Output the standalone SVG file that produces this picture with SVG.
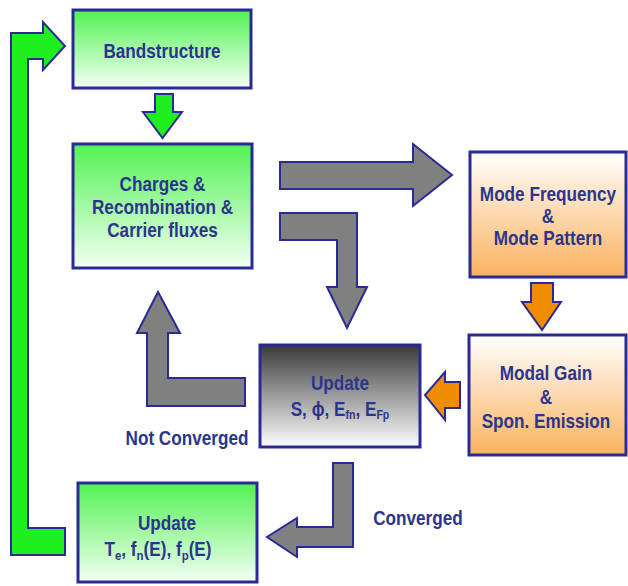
<svg xmlns="http://www.w3.org/2000/svg" width="628" height="586" viewBox="0 0 628 586">
<defs>
<linearGradient id="gGreen" x1="0" y1="0" x2="0" y2="1"><stop offset="0" stop-color="#52f252"/><stop offset="1" stop-color="#f4fff4"/></linearGradient>
<linearGradient id="gOrange" x1="0" y1="0" x2="0" y2="1"><stop offset="0" stop-color="#ffffff"/><stop offset="1" stop-color="#f9b25e"/></linearGradient>
<linearGradient id="gGray" x1="0" y1="0" x2="0" y2="1"><stop offset="0" stop-color="#3a3a3a"/><stop offset="1" stop-color="#ffffff"/></linearGradient>
</defs>
<style>
.box{stroke:#2a2a96;stroke-width:3}
.t{font-family:"Liberation Sans",Arial,sans-serif;font-weight:bold;font-size:19.5px;fill:#2c358c;text-anchor:middle}
.ag{fill:#808080;stroke:#2a2a96;stroke-width:2;stroke-linejoin:miter}
.agr{fill:#1fee1f;stroke:#2a2a96;stroke-width:2}
.aor{fill:#ef8c00;stroke:#2a2a96;stroke-width:2}
</style>
<rect width="628" height="586" fill="#ffffff"/>
<g id="connectors">
<polygon class="agr" points="11,555 11,33 43,33 43,22 65,46 43,70 43,59 28,59 28,528 65,528 65,555"/>
<polygon class="agr" points="155,94 173,94 173,112 182,112 162.5,138 143,112 155,112"/>
<polygon class="ag" points="280,162 413,162 413,144 452,175 413,206 413,189 280,189"/>
<polygon class="ag" points="280,213 357,213 357,287 367,287 347,328 327,287 337,287 337,240 280,240"/>
<polygon class="aor" points="531,283 553,283 553,302 561,302 542,330 522,302 531,302"/>
<polygon class="aor" points="460,382 460,408 445,408 445,420 425,395 445,372 445,382"/>
<polygon class="ag" points="245,378 245,406 147,406 147,333 137,333 158,292 180,333 168,333 168,378"/>
<polygon class="ag" points="333,463 353,463 353,547 297,547 297,557 267,537 297,518 297,527 333,527"/>
<text class="t" transform="translate(187,445) scale(0.88,1)">Not Converged</text>
<text class="t" transform="translate(418,525) scale(0.88,1)">Converged</text>
</g>
<g id="bandstructure">
<rect class="box" x="73" y="10" width="178" height="78" fill="url(#gGreen)"/>
<text class="t" transform="translate(162,58) scale(0.88,1)">Bandstructure</text>
</g>
<g id="charges">
<rect class="box" x="73" y="144" width="179" height="124" fill="url(#gGreen)"/>
<text class="t" transform="translate(162.5,191) scale(0.88,1)">Charges &amp;</text>
<text class="t" transform="translate(162.5,214) scale(0.88,1)">Recombination &amp;</text>
<text class="t" transform="translate(162.5,237) scale(0.88,1)">Carrier fluxes</text>
</g>
<g id="mode">
<rect class="box" x="470" y="152" width="156" height="125" fill="url(#gOrange)"/>
<text class="t" transform="translate(548,201) scale(0.88,1)">Mode Frequency</text>
<text class="t" transform="translate(548,223) scale(0.88,1)">&amp;</text>
<text class="t" transform="translate(548,245) scale(0.88,1)">Mode Pattern</text>
</g>
<g id="modal">
<rect class="box" x="469" y="335" width="157" height="120" fill="url(#gOrange)"/>
<text class="t" transform="translate(546,380) scale(0.88,1)">Modal Gain</text>
<text class="t" transform="translate(546,404) scale(0.88,1)">&amp;</text>
<text class="t" transform="translate(546,428) scale(0.88,1)">Spon. Emission</text>
</g>
<g id="update-mid">
<rect class="box" x="260" y="345" width="160" height="102" fill="url(#gGray)"/>
<text class="t" transform="translate(340,390) scale(0.88,1)">Update</text>
<text class="t" transform="translate(340,416) scale(0.88,1)">S, ϕ, E<tspan font-size="12" dy="3">fn</tspan><tspan dy="-3">, E</tspan><tspan font-size="12" dy="3">Fp</tspan></text>
</g>
<g id="update-bottom">
<rect class="box" x="78" y="483" width="179" height="99" fill="url(#gGreen)"/>
<text class="t" transform="translate(167,530) scale(0.88,1)">Update</text>
<text class="t" transform="translate(158,556) scale(0.88,1)">T<tspan font-size="13" dy="4">e</tspan><tspan dy="-4">, f</tspan><tspan font-size="13" dy="4">n</tspan><tspan dy="-4">(E), f</tspan><tspan font-size="13" dy="4">p</tspan><tspan dy="-4">(E)</tspan></text>
</g>
</svg>
